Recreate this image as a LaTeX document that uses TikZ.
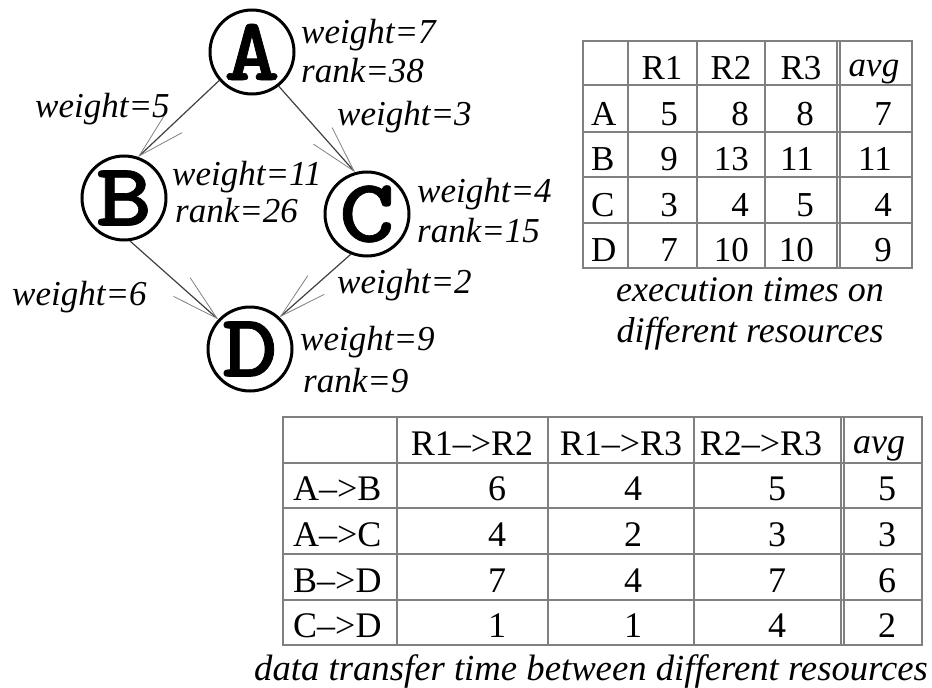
\documentclass[tikz,border=0pt]{standalone}
\usepackage{fontspec}
\usepackage{graphicx}
\setmainfont{Liberation Serif}
\newfontfamily\vtxfont{lmmonolt10-bold.otf}[FakeBold=0.7]
\usetikzlibrary{arrows.meta}
\begin{document}
\begin{tikzpicture}[x=1pt,y=-1pt,
  vtx/.style={circle, draw, line width=3pt, minimum size=84pt, inner sep=0pt,
    font=\vtxfont\fontsize{90}{90}\selectfont},
  edge/.style={draw=black!75, line width=1.2pt,
    -{Straight Barb[length=47pt,width=25pt,line width=0.8pt,color=black!50]}},
  lab/.style={anchor=base west, inner sep=0pt, font=\itshape\fontsize{35}{40}\selectfont},
  captxt/.style={anchor=base, inner sep=0pt, font=\itshape\fontsize{36}{40}\selectfont},
  tline/.style={draw=black!50, line width=1.2pt},
  ta/.style={inner sep=0pt, font=\fontsize{35}{38}\selectfont},
  tb/.style={inner sep=0pt, font=\fontsize{36}{40}\selectfont}
]
\useasboundingbox (0,0) rectangle (932,688);

% graph
\node[vtx] (A) at (252,52) {\scalebox{1.18}[1]{A}};
\node[vtx] (B) at (124,198) {\scalebox{1.18}[1]{B}};
\node[vtx] (C) at (367,214) {\scalebox{1.18}[1]{C}};
\node[vtx] (D) at (250,349) {\scalebox{1.18}[1]{D}};

\draw[edge] (A.221) -- (B.71);
\draw[edge] (A.308) -- (C.106);
\draw[edge] (B.278) -- (D.137);
\draw[edge] (C.248) -- (D.47);

\node[lab] (wA) at (301,43) {weight=7};
\node[lab] (rA) at (301,82) {rank=38};
\node[lab] (wB) at (172,185) {weight=11};
\node[lab] (rB) at (175,222) {rank=26};
\node[lab] (wC) at (417,202) {weight=4};
\node[lab] (rC) at (417,242) {rank=15};
\node[lab] (wD) at (300,350) {weight=9};
\node[lab] (rD) at (303,392) {rank=9};
\node[lab] (eAB) at (35,117) {weight=5};
\node[lab] (eAC) at (337,125) {weight=3};
\node[lab] (eBD) at (12,305) {weight=6};
\node[lab] (eCD) at (337,293) {weight=2};

% table 1
\draw[tline] (583,41) rectangle (912,268);
\foreach \y in {85,132,177,223} \draw[tline] (583,\y) -- (912,\y);
\foreach \x in {628,697,765,837,840} \draw[tline] (\x,41) -- (\x,268);
\node[ta, anchor=base] (h11) at (662,79) {R1};
\node[ta, anchor=base] (h12) at (731,79) {R2};
\node[ta, anchor=base] (h13) at (801,79) {R3};
\node[ta, anchor=base, font=\itshape\fontsize{35}{38}\selectfont] (h14) at (874,76) {avg};
\foreach \r/\yy/\a/\b/\c/\d in {A/125.5/5/8/8/7, B/170.5/9/13/11/11, C/216.5/3/4/5/4, D/261.5/7/10/10/9}{
  \node[ta, anchor=base west] (t1\r) at (591,\yy) {\r};
  \node[ta, anchor=base east] (t1\r a) at (678,\yy) {\a};
  \node[ta, anchor=base east] (t1\r b) at (749,\yy) {\b};
  \node[ta, anchor=base east] (t1\r c) at (814,\yy) {\c};
  \node[ta, anchor=base east] (t1\r d) at (892,\yy) {\d};
}
\node[captxt] (c1a) at (750,301) {execution times on};
\node[captxt] (c1b) at (750,342) {different resources};

% table 2
\draw[tline] (283,417) rectangle (922,645);
\foreach \y in {463,508,554,600} \draw[tline] (283,\y) -- (922,\y);
\foreach \x in {397,548,694,841,844} \draw[tline] (\x,417) -- (\x,645);
\node[tb, anchor=base] (h21) at (472,455) {R1–>R2};
\node[tb, anchor=base] (h22) at (621,455) {R1–>R3};
\node[tb, anchor=base] (h23) at (761,455) {R2–>R3};
\node[tb, anchor=base, font=\itshape\fontsize{36}{40}\selectfont] (h24) at (879,453) {avg};
\foreach \n/\l/\yy/\a/\b/\c/\d in {1/A–>B/500/6/4/5/5, 2/A–>C/546/4/2/3/3, 3/B–>D/592/7/4/7/6, 4/C–>D/637/1/1/4/2}{
  \node[tb, anchor=base west] (t2r\n) at (293,\yy) {\l};
  \node[tb, anchor=base] (t2r\n a) at (497,\yy) {\a};
  \node[tb, anchor=base] (t2r\n b) at (633,\yy) {\b};
  \node[tb, anchor=base] (t2r\n c) at (777,\yy) {\c};
  \node[tb, anchor=base] (t2r\n d) at (887,\yy) {\d};
}
\node[captxt, anchor=base west, font=\itshape\fontsize{36.7}{40}\selectfont] (c2) at (254,680) {data transfer time between different resources};
\end{tikzpicture}
\end{document}
